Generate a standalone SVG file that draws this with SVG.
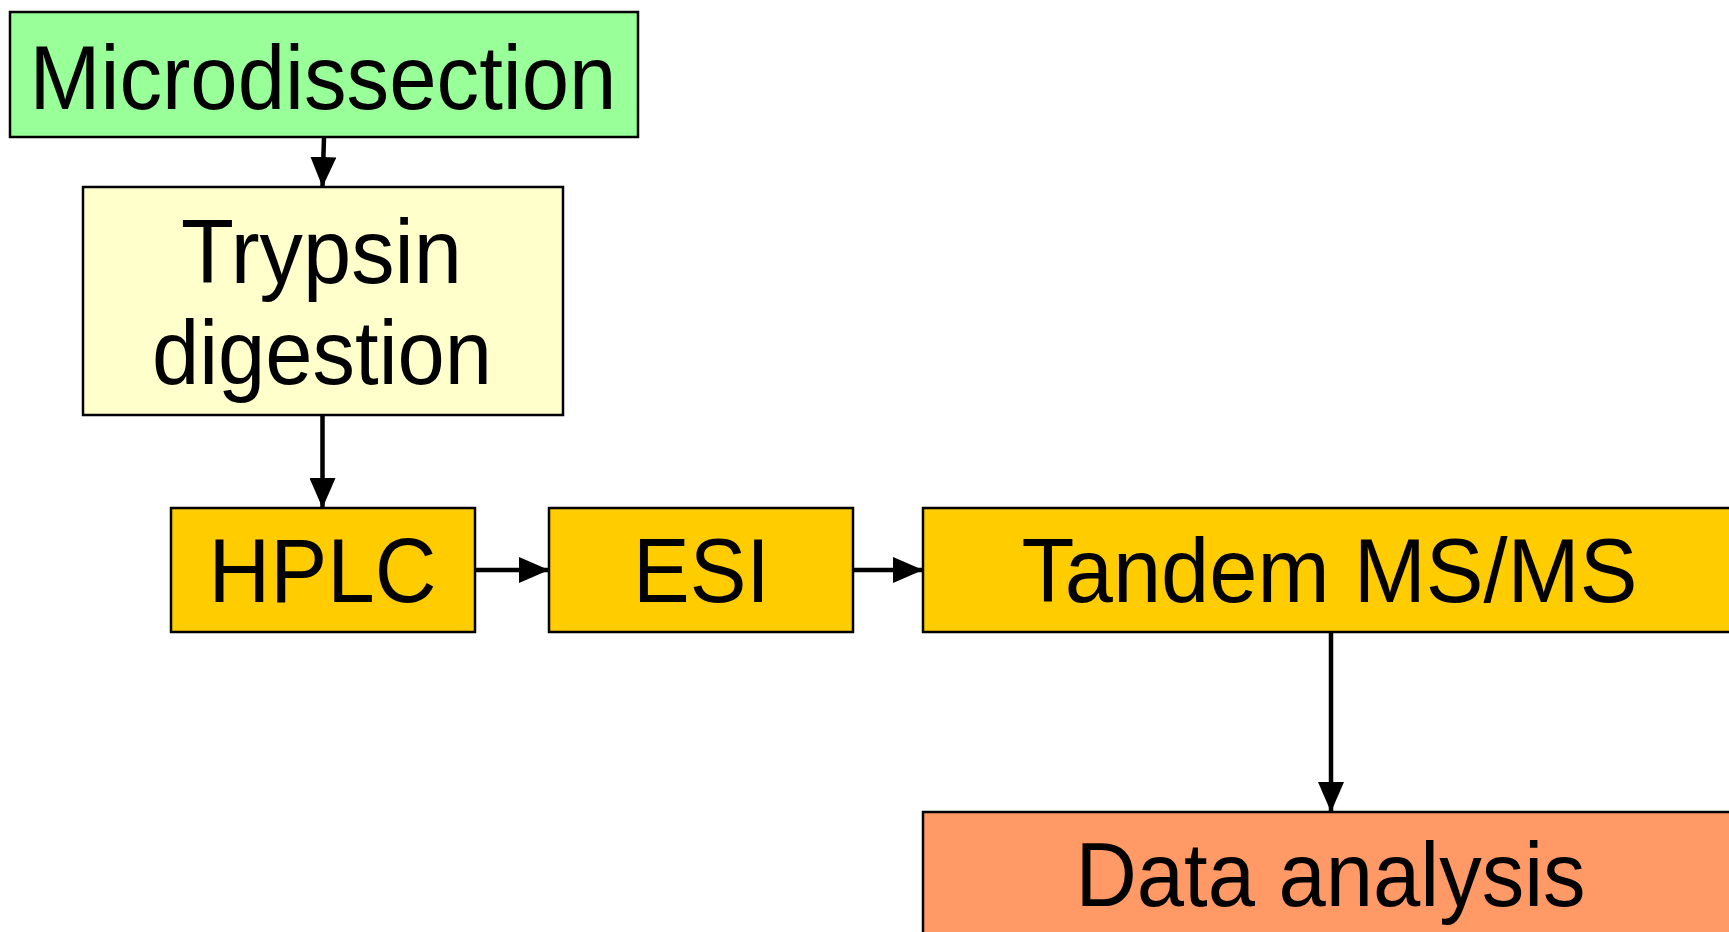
<svg xmlns="http://www.w3.org/2000/svg" width="1729" height="932" viewBox="0 0 1729 932">
<style>
.box{stroke:#000;stroke-width:2.5}
.lbl{font-family:"Liberation Sans",Arial,sans-serif;font-size:90px;fill:#000;text-anchor:middle}
.conn{stroke:#000;stroke-width:4.5;fill:none}
</style>
<defs>
<marker id="arr" viewBox="0 0 30 26" refX="30" refY="13" markerWidth="30" markerHeight="26" markerUnits="userSpaceOnUse" orient="auto">
<path d="M0,0 L30,13 L0,26 Z" fill="#000"/>
</marker>
</defs>
<rect width="1729" height="932" fill="#fff"/>
<g id="connectors">
<line class="conn" x1="324" y1="137" x2="322.5" y2="187" marker-end="url(#arr)"/>
<line class="conn" x1="322.5" y1="415" x2="322.5" y2="508" marker-end="url(#arr)"/>
<line class="conn" x1="475" y1="570" x2="549" y2="570" marker-end="url(#arr)"/>
<line class="conn" x1="853" y1="570" x2="923" y2="570" marker-end="url(#arr)"/>
<line class="conn" x1="1331" y1="632" x2="1331" y2="812" marker-end="url(#arr)"/>
</g>
<g id="microdissection">
<rect class="box" x="10" y="12" width="628" height="125" fill="#99FF99"/>
<text class="lbl" x="323" y="109" textLength="587" lengthAdjust="spacingAndGlyphs">Microdissection</text>
</g>
<g id="trypsin">
<rect class="box" x="83" y="187" width="480" height="228" fill="#FFFFCC"/>
<text class="lbl" x="321.5" y="283" textLength="281" lengthAdjust="spacingAndGlyphs">Trypsin</text>
<text class="lbl" x="322" y="384" textLength="340" lengthAdjust="spacingAndGlyphs">digestion</text>
</g>
<g id="hplc">
<rect class="box" x="171" y="508" width="304" height="124" fill="#FFCC00"/>
<text class="lbl" x="322.5" y="602" textLength="228" lengthAdjust="spacingAndGlyphs">HPLC</text>
</g>
<g id="esi">
<rect class="box" x="549" y="508" width="304" height="124" fill="#FFCC00"/>
<text class="lbl" x="701.5" y="602" textLength="137" lengthAdjust="spacingAndGlyphs">ESI</text>
</g>
<g id="tandem">
<rect class="box" x="923" y="508" width="816" height="124" fill="#FFCC00"/>
<text class="lbl" x="1329.5" y="602" textLength="616" lengthAdjust="spacingAndGlyphs">Tandem MS/MS</text>
</g>
<g id="data">
<rect class="box" x="923" y="812" width="816" height="140" fill="#FF9966"/>
<text class="lbl" x="1330.5" y="906" textLength="510" lengthAdjust="spacingAndGlyphs">Data analysis</text>
</g>
</svg>
